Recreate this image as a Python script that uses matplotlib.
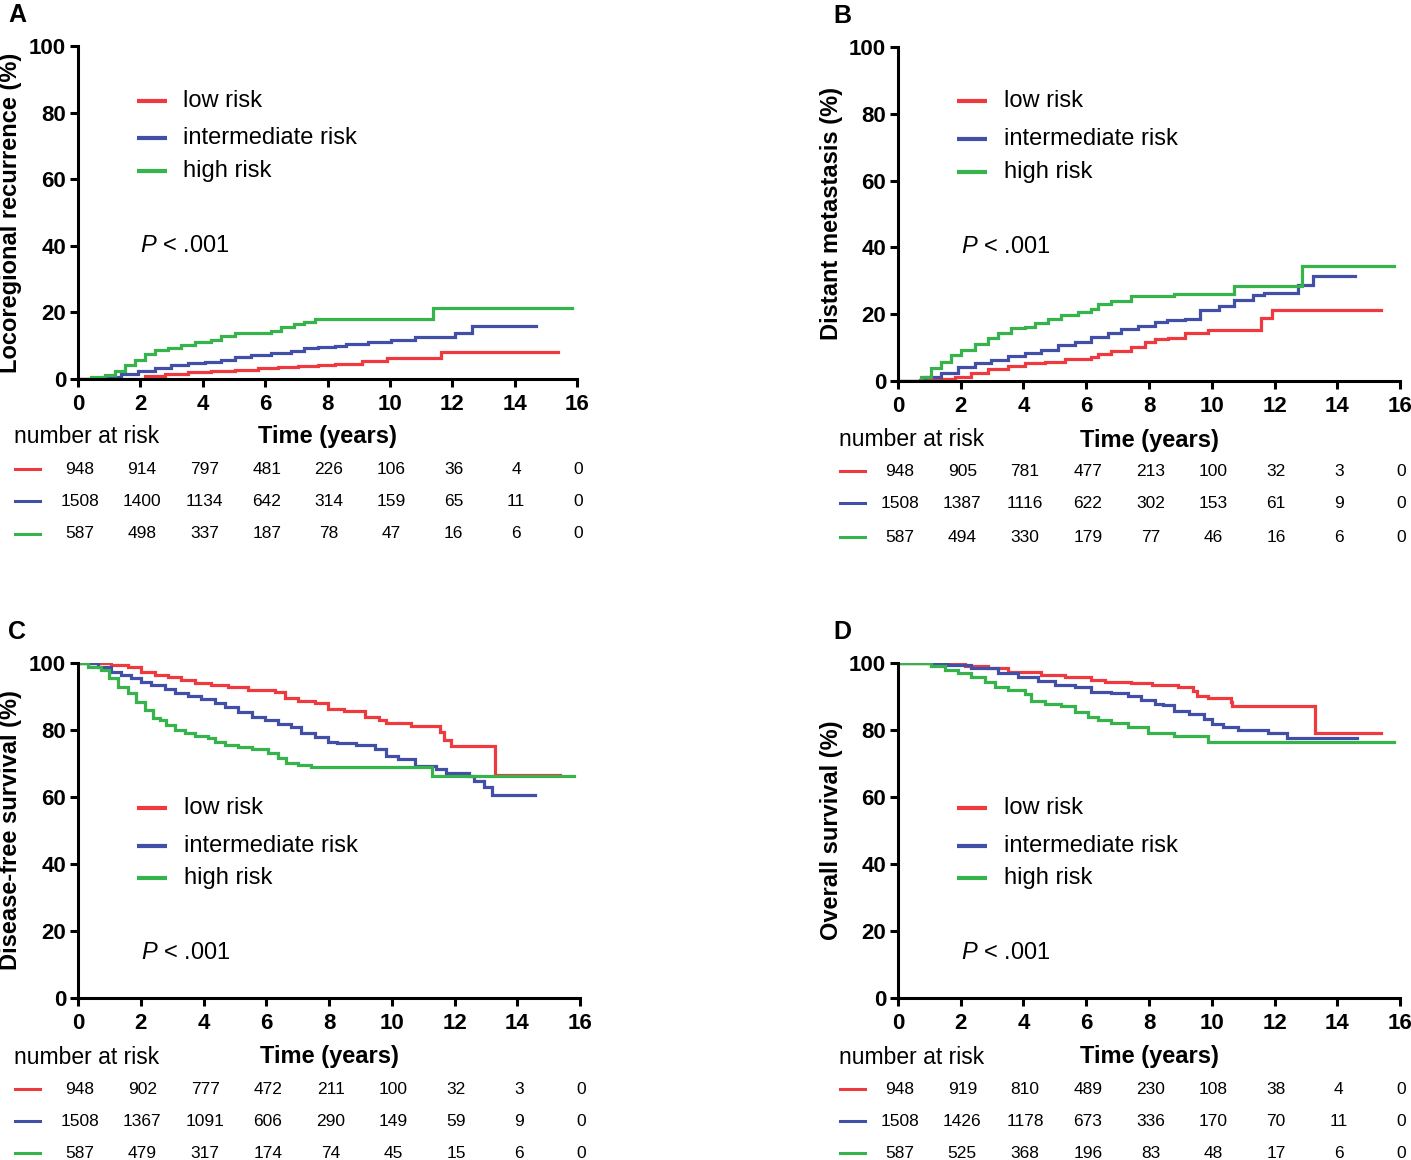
import matplotlib
matplotlib.use("Agg")
import matplotlib.pyplot as plt
from matplotlib.lines import Line2D
from matplotlib.transforms import blended_transform_factory

plt.rcParams['font.family'] = ['Liberation Sans', 'DejaVu Sans']
plt.rcParams['mathtext.fontset'] = 'custom'
plt.rcParams['mathtext.it'] = 'Liberation Sans:italic'
plt.rcParams['mathtext.rm'] = 'Liberation Sans'

groups = ['low risk', 'intermediate risk', 'high risk']
colors = ['#ee3a3f', '#4150a6', '#36b34a']
risk_times = [0, 2, 4, 6, 8, 10, 12, 14, 16]

# A - locoregional recurrence (cumulative %)
a_low_t = [0, 0.7, 1.39, 2.14, 2.78, 3.53, 4.27, 5.02, 5.77, 6.41, 7.05, 7.69, 8.23, 9.1, 9.9, 11.65, 15.4]
a_low_y = [0, 0.05, 0.1, 0.9, 1.5, 2.1, 2.5, 2.7, 3.2, 3.5, 3.9, 4.2, 4.6, 5.5, 6.2, 8.2, 8.2]
a_int_t = [0, 0.85, 1.39, 1.92, 2.46, 2.99, 3.53, 4.06, 4.59, 5.02, 5.56, 6.2, 6.84, 7.26, 7.69, 8.23, 8.6, 9.3, 10.05, 10.8, 12.08, 12.63, 14.7]
a_int_y = [0, 0.5, 1.5, 2.5, 3.4, 4.2, 4.9, 5.2, 5.7, 6.5, 7.2, 7.7, 8.5, 9.2, 9.7, 10.0, 10.4, 11.0, 11.7, 12.5, 13.9, 16.0, 16.0]
a_high_t = [0, 0.43, 0.85, 1.18, 1.5, 1.82, 2.14, 2.46, 2.88, 3.31, 3.74, 4.27, 4.59, 5.02, 5.88, 6.2, 6.52, 6.94, 7.26, 7.59, 11.38, 15.85]
a_high_y = [0, 0.5, 1.2, 2.4, 4.2, 5.7, 7.5, 8.7, 9.2, 10.2, 11.2, 11.7, 12.9, 13.7, 13.9, 14.5, 15.7, 16.4, 17.2, 18.0, 21.2, 21.2]

# B - distant metastasis (cumulative %)
b_low_t = [0, 0.7, 1.28, 1.81, 2.34, 2.87, 3.51, 4.04, 4.68, 5.31, 6.16, 6.38, 6.8, 7.44, 7.86, 8.18, 8.6, 9.16, 9.88, 11.56, 11.92, 15.38]
b_low_y = [0, 0.2, 0.7, 1.3, 2.5, 3.5, 4.5, 5.3, 5.8, 6.5, 7.1, 8.1, 9.1, 10.1, 11.8, 12.5, 12.8, 14.4, 15.2, 19.0, 21.2, 21.2]
b_int_t = [0, 0.85, 1.38, 1.91, 2.44, 2.98, 3.51, 4.04, 4.57, 5.1, 5.63, 6.16, 6.7, 7.12, 7.65, 8.18, 8.56, 9.16, 9.64, 10.24, 10.72, 11.32, 11.68, 12.76, 13.24, 14.56]
b_int_y = [0, 1.1, 2.5, 4.1, 5.3, 6.3, 7.5, 8.5, 9.3, 10.8, 11.8, 13.3, 14.3, 15.5, 16.5, 17.8, 18.4, 18.7, 21.2, 22.4, 24.2, 25.6, 26.4, 28.6, 31.3, 31.3]
b_high_t = [0, 0.74, 1.06, 1.38, 1.7, 2.02, 2.44, 2.87, 3.19, 3.61, 4.04, 4.36, 4.78, 5.21, 5.74, 6.16, 6.38, 6.8, 7.44, 8.8, 10.72, 12.88, 15.82]
b_high_y = [0, 1.3, 3.8, 5.8, 7.8, 9.3, 11.1, 12.8, 14.5, 15.8, 16.3, 17.3, 18.5, 19.8, 20.8, 21.5, 23.1, 24.1, 25.3, 26.1, 28.4, 34.4, 34.4]

# C - disease-free survival (%)
c_low_t = [0, 1.06, 1.6, 2.02, 2.44, 2.87, 3.29, 3.72, 4.25, 4.78, 5.42, 6.27, 6.59, 7.01, 7.55, 7.97, 8.49, 9.16, 9.59, 9.83, 10.62, 11.53, 11.66, 11.9, 13.3, 15.37]
c_low_y = [100, 99.4, 98.7, 97.4, 96.4, 95.7, 94.9, 94.1, 93.4, 92.7, 91.9, 91.2, 89.7, 88.7, 88.1, 86.4, 85.8, 83.8, 83.1, 82.1, 81.1, 79.3, 77.1, 75.3, 66.6, 66.6]
c_int_t = [0, 0.64, 1.06, 1.38, 1.7, 2.02, 2.34, 2.76, 3.08, 3.5, 3.93, 4.36, 4.68, 5.1, 5.53, 5.95, 6.38, 6.8, 7.12, 7.55, 7.97, 8.25, 8.86, 9.46, 9.83, 10.2, 10.74, 11.41, 11.72, 12.45, 12.63, 12.94, 13.18, 14.58]
c_int_y = [100, 98.9, 97.4, 96.4, 95.4, 94.4, 93.4, 92.1, 90.9, 90.1, 89.2, 88.2, 87.0, 85.5, 84.0, 83.0, 81.8, 81.0, 79.0, 77.8, 76.5, 76.0, 75.5, 74.3, 72.3, 71.3, 69.4, 68.4, 67.2, 66.4, 64.9, 63.1, 60.7, 60.7]
c_high_t = [0, 0.32, 0.74, 1.0, 1.28, 1.6, 1.86, 2.13, 2.39, 2.6, 2.82, 3.08, 3.4, 3.72, 4.14, 4.36, 4.68, 5.1, 5.53, 6.06, 6.38, 6.64, 7.01, 7.44, 11.29, 15.8]
c_high_y = [100, 98.9, 97.9, 95.4, 92.9, 90.9, 88.4, 85.9, 83.5, 83.0, 81.5, 80.0, 79.0, 78.2, 77.5, 76.5, 75.5, 74.8, 74.2, 73.0, 71.5, 70.2, 69.6, 68.9, 66.2, 66.2]

# D - overall survival (%)
d_low_t = [0, 2.13, 2.87, 3.5, 4.57, 5.31, 6.16, 6.59, 7.44, 8.08, 8.92, 9.4, 9.52, 9.88, 10.6, 10.66, 13.3, 15.38]
d_low_y = [100, 99.1, 98.4, 97.4, 96.4, 95.7, 94.9, 94.4, 94.1, 93.4, 92.7, 91.7, 90.2, 89.6, 88.3, 87.1, 79.1, 79.1]
d_int_t = [0, 1.6, 2.34, 3.19, 3.83, 4.46, 5.0, 5.63, 6.16, 6.8, 7.33, 7.76, 8.18, 8.44, 8.8, 9.28, 9.76, 10.0, 10.36, 10.84, 11.8, 12.4, 14.62]
d_int_y = [100, 99.4, 98.4, 96.9, 95.7, 94.7, 93.4, 92.7, 91.4, 90.9, 90.1, 88.9, 87.9, 87.5, 85.8, 84.8, 83.3, 81.8, 81.0, 80.1, 79.1, 77.6, 77.6]
d_high_t = [0, 1.06, 1.49, 1.91, 2.34, 2.76, 3.08, 3.5, 4.04, 4.25, 4.68, 5.2, 5.63, 6.06, 6.38, 6.8, 7.33, 7.97, 8.8, 9.88, 15.82]
d_high_y = [100, 99.1, 97.9, 96.9, 95.9, 94.4, 92.9, 91.9, 90.7, 88.7, 87.9, 87.1, 85.5, 84.0, 83.0, 82.0, 81.0, 79.0, 78.1, 76.5, 76.5]

# numbers at risk
a_risk_low = [948, 914, 797, 481, 226, 106, 36, 4, 0]
a_risk_int = [1508, 1400, 1134, 642, 314, 159, 65, 11, 0]
a_risk_high = [587, 498, 337, 187, 78, 47, 16, 6, 0]
b_risk_low = [948, 905, 781, 477, 213, 100, 32, 3, 0]
b_risk_int = [1508, 1387, 1116, 622, 302, 153, 61, 9, 0]
b_risk_high = [587, 494, 330, 179, 77, 46, 16, 6, 0]
c_risk_low = [948, 902, 777, 472, 211, 100, 32, 3, 0]
c_risk_int = [1508, 1367, 1091, 606, 290, 149, 59, 9, 0]
c_risk_high = [587, 479, 317, 174, 74, 45, 15, 6, 0]
d_risk_low = [948, 919, 810, 489, 230, 108, 38, 4, 0]
d_risk_int = [1508, 1426, 1178, 673, 336, 170, 70, 11, 0]
d_risk_high = [587, 525, 368, 196, 83, 48, 17, 6, 0]

W, H = 1411, 1160
fig = plt.figure(figsize=(W / 100, H / 100), dpi=100)


def fx(px):
    return px / W


def fy(py):
    return 1 - py / H


def draw_panel(letter, box, ylabel, curves, risks, legend_rows, p_y, table_rows, label_x, letter_x):
    left, top, right, bottom = box
    ax = fig.add_axes([fx(left), fy(bottom), fx(right - left), (bottom - top) / H])
    for (t, y), c in zip(curves, colors):
        ax.step(t, y, where='post', color=c, lw=2.3, solid_joinstyle='miter')
    ax.set_xlim(0, 16)
    ax.set_ylim(0, 100)
    ax.set_xticks(range(0, 17, 2))
    ax.set_yticks(range(0, 101, 20))
    for s in ['top', 'right']:
        ax.spines[s].set_visible(False)
    for s in ['left', 'bottom']:
        ax.spines[s].set_linewidth(2.2)
    ax.tick_params(width=2.2, length=6, labelsize=16)
    ax.tick_params(axis='x', pad=4.5)
    ax.tick_params(axis='y', pad=2.5)
    for lab in ax.get_xticklabels() + ax.get_yticklabels():
        lab.set_fontweight('bold')
    ax.patch.set_alpha(0)

    # legend inside the plot
    for yy, c, g in zip(legend_rows, colors, groups):
        ax.add_line(Line2D([0.118, 0.178], [yy, yy], transform=ax.transAxes, color=c, lw=3, solid_capstyle='butt'))
        ax.text(0.211, yy, g, transform=ax.transAxes, fontsize=17, va='center', ha='left')
    ax.text(0.125, p_y, r'$\mathit{P}$ < .001', transform=ax.transAxes, fontsize=17, va='center', ha='left')

    # y label, panel letter
    fig.text(fx(label_x), fy((top + bottom) / 2), ylabel, rotation=90, fontsize=17,
             fontweight='bold', ha='center', va='center')
    fig.text(fx(letter_x), fy(top - 31), letter, fontsize=18, fontweight='bold', ha='left', va='center')

    # number at risk table
    trans = blended_transform_factory(ax.transData, fig.transFigure)
    head_y, row_ys = table_rows
    fig.text(fx(letter_x + 6), fy(head_y), 'number at risk', fontsize=16.5, ha='left', va='center')
    ax.text(8, fy(head_y), 'Time (years)', transform=trans, fontsize=17, fontweight='bold',
            ha='center', va='center', clip_on=False)
    for ry, c, vals in zip(row_ys, colors, risks):
        fig.add_artist(Line2D([fx(letter_x + 7), fx(letter_x + 32)], [fy(ry), fy(ry)],
                              transform=fig.transFigure, color=c, lw=2.2))
        for tt, v in zip(risk_times, vals):
            ax.text(tt + 0.05, fy(ry), str(v), transform=trans, fontsize=12.5, ha='center', va='center',
                    clip_on=False)
    return ax


draw_panel('A', (78, 46, 577, 379), 'Locoregional recurrence (%)',
           [(a_low_t, a_low_y), (a_int_t, a_int_y), (a_high_t, a_high_y)],
           [a_risk_low, a_risk_int, a_risk_high],
           [0.836, 0.723, 0.626], 0.40, (437, [469, 501, 534]), 11, 8)
draw_panel('B', (898, 47, 1400, 381), 'Distant metastasis (%)',
           [(b_low_t, b_low_y), (b_int_t, b_int_y), (b_high_t, b_high_y)],
           [b_risk_low, b_risk_int, b_risk_high],
           [0.838, 0.725, 0.626], 0.40, (440, [471, 503, 537]), 831, 833)
draw_panel('C', (78, 663, 580, 998), 'Disease-free survival (%)',
           [(c_low_t, c_low_y), (c_int_t, c_int_y), (c_high_t, c_high_y)],
           [c_risk_low, c_risk_int, c_risk_high],
           [0.567, 0.454, 0.358], 0.134, (1057, [1089, 1121, 1153]), 11, 8)
draw_panel('D', (898, 663, 1400, 998), 'Overall survival (%)',
           [(d_low_t, d_low_y), (d_int_t, d_int_y), (d_high_t, d_high_y)],
           [d_risk_low, d_risk_int, d_risk_high],
           [0.567, 0.454, 0.358], 0.134, (1057, [1089, 1121, 1153]), 831, 833)

fig.savefig('out.png', dpi=100)
